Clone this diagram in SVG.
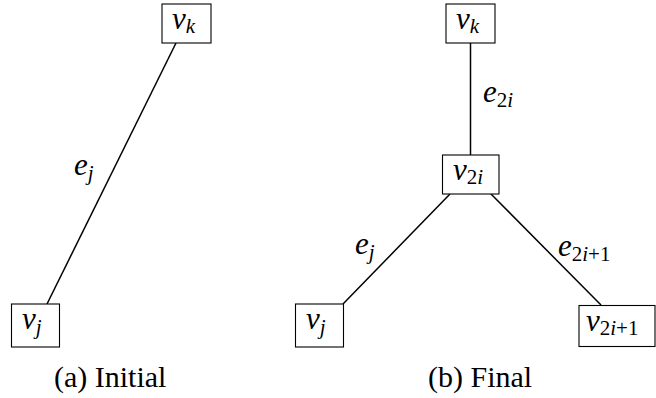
<svg xmlns="http://www.w3.org/2000/svg" width="656" height="398" viewBox="0 0 656 398">
<rect width="656" height="398" fill="#fff"/>
<g id="connectors" stroke="#000" stroke-width="1.5" fill="none">
<line x1="176" y1="43" x2="47" y2="304"/>
<line x1="470.5" y1="43" x2="470.5" y2="155"/>
<line x1="450" y1="194" x2="343" y2="304"/>
<line x1="491" y1="194" x2="601" y2="305"/>
</g>
<g id="labels">
<text x="74" y="175" style="font-family:'Liberation Serif','Times New Roman',serif;font-style:italic;font-size:31px">e<tspan font-size="21" dy="5">j</tspan></text>
<text x="483" y="102" style="font-family:'Liberation Serif','Times New Roman',serif;font-style:italic;font-size:31px">e<tspan font-size="21" font-style="normal" dy="5">2</tspan><tspan font-size="21">i</tspan></text>
<text x="355" y="254" style="font-family:'Liberation Serif','Times New Roman',serif;font-style:italic;font-size:31px">e<tspan font-size="21" dy="5">j</tspan></text>
<text x="558" y="256" style="font-family:'Liberation Serif','Times New Roman',serif;font-style:italic;font-size:31px">e<tspan font-size="21" font-style="normal" dy="5">2</tspan><tspan font-size="21">i</tspan><tspan font-size="21" font-style="normal">+1</tspan></text>
</g>
<g id="a_vk">
<rect x="162" y="4" width="49" height="39" fill="#fff" stroke="#000" stroke-width="1.1"/>
<text x="172" y="29" style="font-family:'Liberation Serif','Times New Roman',serif;font-style:italic;font-size:31px">v<tspan font-size="21" dy="4">k</tspan></text>
</g>
<g id="a_vj">
<rect x="11.5" y="304" width="48" height="43" fill="#fff" stroke="#000" stroke-width="1.1"/>
<text x="22" y="329" style="font-family:'Liberation Serif','Times New Roman',serif;font-style:italic;font-size:31px">v<tspan font-size="21" dy="5">j</tspan></text>
</g>
<g id="b_vk">
<rect x="446" y="4" width="49" height="39" fill="#fff" stroke="#000" stroke-width="1.1"/>
<text x="456" y="29" style="font-family:'Liberation Serif','Times New Roman',serif;font-style:italic;font-size:31px">v<tspan font-size="21" dy="4">k</tspan></text>
</g>
<g id="b_v2i">
<rect x="442.5" y="155" width="56.5" height="39" fill="#fff" stroke="#000" stroke-width="1.1"/>
<text x="453" y="180" style="font-family:'Liberation Serif','Times New Roman',serif;font-style:italic;font-size:31px">v<tspan font-size="21" font-style="normal" dy="4">2</tspan><tspan font-size="21">i</tspan></text>
</g>
<g id="b_vj">
<rect x="295.5" y="304" width="48" height="43" fill="#fff" stroke="#000" stroke-width="1.1"/>
<text x="306" y="329" style="font-family:'Liberation Serif','Times New Roman',serif;font-style:italic;font-size:31px">v<tspan font-size="21" dy="5">j</tspan></text>
</g>
<g id="b_v2i1">
<rect x="579" y="305.5" width="76" height="41" fill="#fff" stroke="#000" stroke-width="1.1"/>
<text x="586" y="331" style="font-family:'Liberation Serif','Times New Roman',serif;font-style:italic;font-size:31px">v<tspan font-size="21" font-style="normal" dy="4">2</tspan><tspan font-size="21">i</tspan><tspan font-size="21" font-style="normal">+1</tspan></text>
</g>
<text x="54" y="387" style="font-family:'Liberation Serif','Times New Roman',serif;font-size:30px">(a) Initial</text>
<text x="428" y="387" style="font-family:'Liberation Serif','Times New Roman',serif;font-size:30px">(b) Final</text>
</svg>
